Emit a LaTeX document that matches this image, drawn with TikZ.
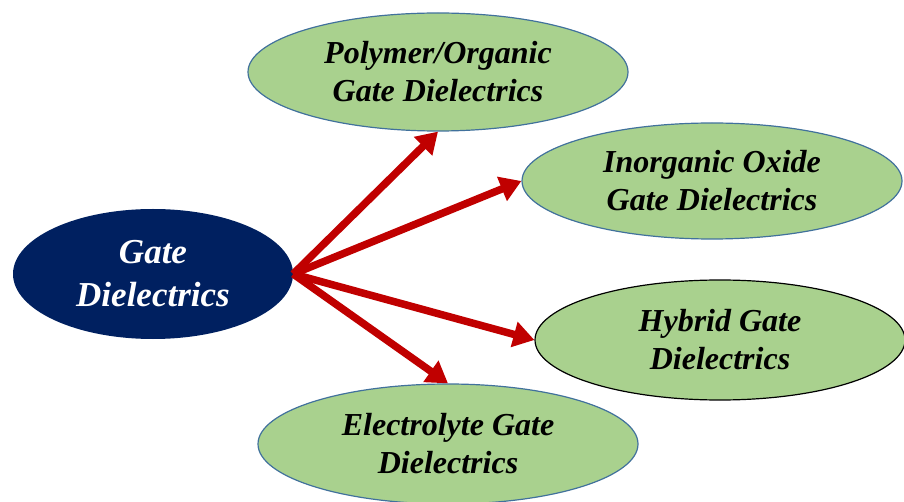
\documentclass[tikz,border=0pt]{standalone}
\usepackage{fontspec}
\setmainfont{Liberation Serif}[BoldFont={Liberation Serif Bold},ItalicFont={Liberation Serif Italic},BoldItalicFont={Liberation Serif Bold Italic}]
\usetikzlibrary{arrows.meta,shapes.geometric}
\definecolor{leaf}{HTML}{A9D18E}
\definecolor{rim}{HTML}{41719C}
\definecolor{navy}{HTML}{002060}
\definecolor{arrowred}{HTML}{C00000}
\begin{document}
\begin{tikzpicture}[x=1pt,y=-1pt,
  blob/.style={ellipse, draw=rim, line width=1.2pt, fill=leaf, inner sep=0pt, align=center,
    font=\fontsize{32}{38}\selectfont\bfseries\itshape, text=black},
  hub/.style={ellipse, fill=navy, draw=none, inner sep=0pt, align=center,
    font=\fontsize{35}{43}\selectfont\bfseries\itshape, text=white},
  link/.style={draw=arrowred, line width=7.5pt, -{Triangle[length=21pt,width=25pt]}, shorten >=0pt}]
\useasboundingbox (0,0) rectangle (904,502);
\clip (0,0) rectangle (904,502);
\node[hub, minimum width=280, minimum height=130] (gate) at (153,274) {Gate\\Dielectrics};
\node[blob, minimum width=380, minimum height=118] (poly) at (438,72) {Polymer/Organic\\Gate Dielectrics};
\node[blob, minimum width=380, minimum height=116] (inorg) at (712,181) {Inorganic Oxide\\Gate Dielectrics};
\node[blob, draw=black, minimum width=370, minimum height=120] (hyb) at (720,340) {Hybrid Gate\\Dielectrics};
\node[blob, minimum width=380, minimum height=120] (elec) at (448,444) {Electrolyte Gate\\Dielectrics};
\draw[link] (gate.east) -- (poly.south);
\draw[link] (gate.east) -- (inorg.west);
\draw[link] (gate.east) -- (hyb.west);
\draw[link] (gate.east) -- (elec.north);
\end{tikzpicture}
\end{document}
